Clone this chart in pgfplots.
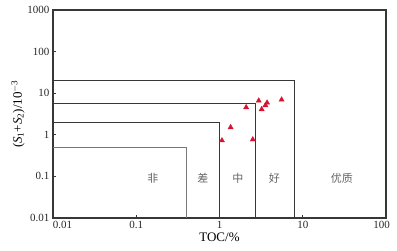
\documentclass[border=0pt]{standalone}
\usepackage{pgfplots}
\pgfplotsset{compat=1.18}
\usepackage{fontspec}
\setmainfont{Liberation Serif}
\newfontfamily\cjk{Noto Sans CJK SC}
\definecolor{boxc}{RGB}{55,55,55}
\definecolor{boxl}{RGB}{120,120,120}
\definecolor{tri}{RGB}{214,20,50}
\definecolor{lab}{RGB}{100,100,100}
\begin{document}
\begin{tikzpicture}
\path[use as bounding box] (-53pt,-32pt) rectangle (344pt,218pt);
\begin{axis}[
  at={(0,0)}, anchor=south west,
  scale only axis, width=333pt, height=208pt,
  xmode=log, ymode=log,
  xmin=0.01, xmax=100, ymin=0.01, ymax=1000,
  xtick={0.01,0.1,1,10,100},
  xticklabels={\makebox[0pt][l]{0.01},0.1,1,10,\makebox[0pt]{\hspace{-9pt}100}},
  ytick={0.01,0.1,1,10,100,1000}, yticklabels={0.01,0.1,1,10,100,1000},
  xminorticks=false, yminorticks=false,
  xtick pos=bottom, ytick pos=left, tick align=inside,
  major tick length=3pt,
  axis line style={boxc, line width=1.3pt},
  tick style={boxc, line width=0.7pt},
  ticklabel style={font=\fontsize{11}{12}\selectfont, text=black!85},
  xlabel={TOC/\%},
  ylabel={(\textit{S}\textsubscript{1}+\textit{S}\textsubscript{2})/10\textsuperscript{$-$3}},
  xlabel style={font=\fontsize{13}{14}\selectfont, yshift=3pt},
  ylabel style={font=\fontsize{13}{14}\selectfont, yshift=-4pt},
  clip=false,
]
\addplot[boxl, line width=1.1pt] coordinates {(0.01,0.5) (0.4,0.5) (0.4,0.01)};
\addplot[boxc, line width=1pt] coordinates {(0.01,2) (1,2) (1,0.01)};
\addplot[boxc, line width=1pt] coordinates {(0.01,5.8) (2.7,5.8) (2.7,0.01)};
\addplot[boxc, line width=1pt] coordinates {(0.01,20) (8,20) (8,0.01)};
\addplot[only marks, mark=triangle*, mark size=3pt, tri, mark options={fill=tri, draw=tri}] coordinates {
(1.07,0.73) (1.36,1.51) (2.09,4.57) (2.51,0.77) (2.96,6.6)
(3.21,4.1) (3.56,5.1) (3.73,5.9) (5.57,6.97)
};
\node[text=lab, font=\cjk\fontsize{11}{12}\selectfont] at (axis cs:0.158,0.09) {非};
\node[text=lab, font=\cjk\fontsize{11}{12}\selectfont] at (axis cs:0.63,0.09) {差};
\node[text=lab, font=\cjk\fontsize{11}{12}\selectfont] at (axis cs:1.66,0.09) {中};
\node[text=lab, font=\cjk\fontsize{11}{12}\selectfont] at (axis cs:4.56,0.09) {好};
\node[text=lab, font=\cjk\fontsize{11}{12}\selectfont] at (axis cs:29.5,0.09) {优质};
\end{axis}
\end{tikzpicture}
\end{document}
